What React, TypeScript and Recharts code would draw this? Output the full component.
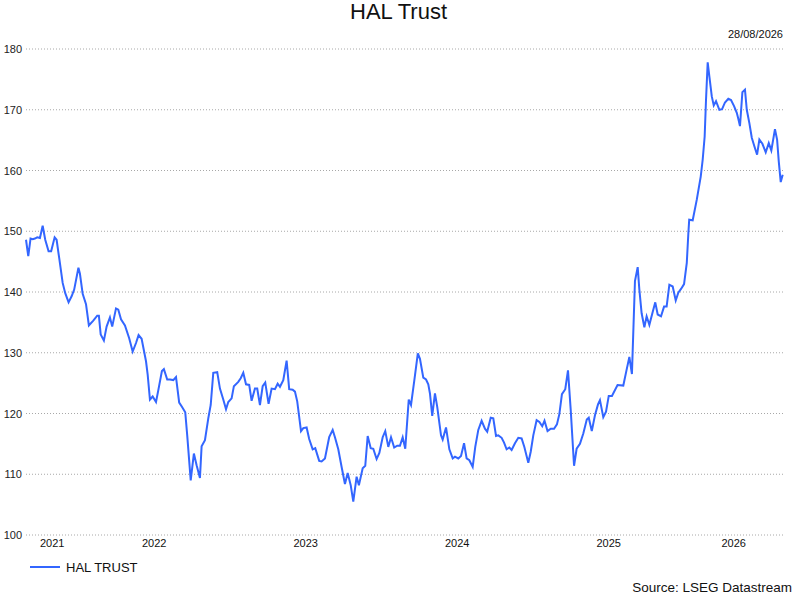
import { LineChart, Line, XAxis, YAxis, CartesianGrid } from "recharts";

// weekly closes, time as decimal year
const weeks = [
  2021.654, 2021.669, 2021.684, 2021.698, 2021.713, 2021.728, 2021.746, 2021.764, 2021.781, 2021.803,
  2021.820, 2021.843, 2021.856, 2021.873, 2021.896, 2021.913, 2021.935, 2021.955, 2021.972, 2022.000,
  2022.010, 2022.028, 2022.050, 2022.069, 2022.098, 2022.124, 2022.135, 2022.147, 2022.168, 2022.186,
  2022.208, 2022.223, 2022.248, 2022.263, 2022.281, 2022.307, 2022.335, 2022.358, 2022.380, 2022.397,
  2022.417, 2022.446, 2022.457, 2022.472, 2022.490, 2022.512, 2022.527, 2022.551, 2022.564, 2022.586,
  2022.604, 2022.626, 2022.644, 2022.665, 2022.683, 2022.705, 2022.718, 2022.741, 2022.762, 2022.780,
  2022.802, 2022.813, 2022.835, 2022.857, 2022.873, 2022.890, 2022.916, 2022.934, 2022.956, 2022.974,
  2022.989, 2023.011, 2023.026, 2023.055, 2023.071, 2023.088, 2023.106, 2023.127, 2023.143, 2023.165,
  2023.180, 2023.198, 2023.216, 2023.233, 2023.255, 2023.275, 2023.297, 2023.315, 2023.330, 2023.352,
  2023.374, 2023.391, 2023.414, 2023.429, 2023.444, 2023.469, 2023.484, 2023.506, 2023.523, 2023.546,
  2023.563, 2023.589, 2023.605, 2023.627, 2023.655, 2023.678, 2023.693, 2023.715, 2023.737, 2023.759,
  2023.777, 2023.797, 2023.814, 2023.836, 2023.851, 2023.876, 2023.893, 2023.909, 2023.929, 2023.946,
  2023.968, 2023.986, 2024.008, 2024.025, 2024.045, 2024.063, 2024.084, 2024.104, 2024.122, 2024.140,
  2024.157, 2024.180, 2024.195, 2024.217, 2024.240, 2024.254, 2024.276, 2024.294, 2024.309, 2024.320,
  2024.335, 2024.353, 2024.368, 2024.393, 2024.404, 2024.426, 2024.448, 2024.470, 2024.485, 2024.507,
  2024.525, 2024.545, 2024.562, 2024.580, 2024.602, 2024.619, 2024.639, 2024.661, 2024.683, 2024.698,
  2024.721, 2024.738, 2024.756, 2024.771, 2024.793, 2024.809, 2024.826, 2024.844, 2024.859, 2024.881,
  2024.903, 2024.925, 2024.943, 2024.969, 2024.985, 2025.002, 2025.024, 2025.042, 2025.061, 2025.076,
  2025.096, 2025.117, 2025.139, 2025.158, 2025.174, 2025.191, 2025.213, 2025.231, 2025.249, 2025.271,
  2025.288, 2025.310, 2025.332, 2025.355, 2025.368, 2025.388, 2025.409, 2025.429, 2025.442, 2025.464,
  2025.482, 2025.500, 2025.521, 2025.558, 2025.596, 2025.617, 2025.636, 2025.653, 2025.673, 2025.691,
  2025.702, 2025.717, 2025.735, 2025.750, 2025.768, 2025.790, 2025.807, 2025.823, 2025.845, 2025.865,
  2025.882, 2025.900, 2025.922, 2025.942, 2025.959, 2025.977, 2025.997, 2026.015, 2026.025, 2026.031,
  2026.054, 2026.081, 2026.107, 2026.120, 2026.133, 2026.142, 2026.153, 2026.164, 2026.180, 2026.193,
  2026.208, 2026.230, 2026.248, 2026.267, 2026.289, 2026.307, 2026.327, 2026.345, 2026.355, 2026.366,
  2026.382, 2026.399, 2026.411, 2026.428, 2026.444, 2026.461, 2026.479, 2026.494, 2026.514, 2026.536,
  2026.556, 2026.573, 2026.597, 2026.611, 2026.622, 2026.635, 2026.648,
];

const halTrust = [
  148.6, 145.9, 148.8, 148.7, 148.8, 149.0, 148.9, 150.9, 148.6, 146.7,
  146.7, 149.0, 148.6, 145.6, 141.5, 139.8, 138.3, 139.3, 140.4, 144.0,
  143.0, 139.7, 138.0, 134.5, 135.3, 136.1, 136.1, 133.0, 132.0, 134.3,
  135.8, 134.3, 137.3, 137.1, 135.5, 134.5, 132.4, 130.2, 131.6, 132.9,
  132.3, 128.6, 126.4, 122.3, 122.8, 121.9, 123.8, 127.0, 127.3, 125.6,
  125.6, 125.5, 126.0, 121.8, 121.1, 120.2, 116.4, 109.0, 113.4, 111.5,
  109.4, 114.6, 115.6, 119.2, 121.4, 126.7, 126.8, 124.1, 122.3, 120.7,
  121.9, 122.5, 124.5, 125.2, 125.8, 126.7, 124.8, 124.7, 122.1, 124.1,
  124.1, 121.4, 124.5, 125.1, 121.6, 124.1, 124.0, 124.9, 124.4, 125.5,
  128.7, 124.0, 123.9, 123.6, 122.0, 117.1, 117.6, 117.7, 115.8, 114.1,
  114.3, 112.2, 112.1, 112.6, 116.1, 117.3, 116.1, 114.1, 111.2, 108.4,
  110.2, 108.2, 105.5, 109.6, 108.2, 111.0, 111.4, 116.3, 114.3, 114.2,
  112.5, 113.5, 116.1, 117.1, 114.5, 116.1, 114.4, 114.7, 114.7, 116.1,
  114.2, 122.3, 121.4, 125.5, 129.9, 129.0, 125.9, 125.6, 124.8, 123.3,
  119.6, 123.3, 121.1, 116.4, 115.7, 117.7, 114.1, 112.6, 112.9, 112.6,
  113.0, 115.1, 112.6, 112.3, 111.2, 114.5, 117.3, 118.8, 117.5, 117.0,
  119.3, 119.2, 116.3, 116.4, 116.0, 115.2, 114.1, 114.4, 114.0, 115.1,
  116.0, 115.9, 114.5, 111.9, 113.7, 116.4, 118.9, 118.6, 117.9, 118.8,
  117.1, 117.5, 117.5, 118.2, 119.9, 123.2, 124.0, 127.1, 120.6, 111.4,
  114.2, 115.0, 116.7, 119.0, 119.3, 117.1, 119.7, 121.5, 122.2, 119.4,
  120.3, 122.9, 122.9, 124.7, 124.6, 127.1, 129.3, 126.5, 141.8, 144.1,
  140.4, 136.5, 134.2, 136.0, 134.6, 136.7, 138.3, 136.3, 136.0, 137.6,
  137.6, 141.2, 140.9, 138.6, 139.9, 140.5, 141.3, 144.8, 149.5, 151.9,
  151.8, 155.2, 159.0, 161.8, 165.6, 171.7, 177.8, 175.5, 172.2, 170.7,
  171.4, 170.0, 170.1, 171.2, 171.8, 171.6, 170.6, 169.5, 168.5, 167.3,
  172.9, 173.3, 170.0, 167.8, 165.4, 164.0, 162.6, 165.1, 164.4, 163.0,
  164.5, 163.3, 166.8, 165.1, 161.5, 158.1, 159.3,
];

const xDomain = [2021.654, 2026.65];
// year labels sit in the middle of each year's visible span
const xTicks = [2021.827, 2022.5, 2023.5, 2024.5, 2025.5, 2026.325];
const yTicks = [100, 110, 120, 130, 140, 150, 160, 170, 180];

const BLUE = "#3366ff";
const FONT = "'Liberation Sans', Arial, sans-serif";

function XTick({ x, y, payload }: any) {
  return (
    <text x={x} y={y} dy={4} textAnchor="middle" fontSize={11} fill="#111" fontFamily={FONT}>
      {Math.floor(payload.value)}
    </text>
  );
}

function YTick({ x, y, payload }: any) {
  return (
    <text x={x} y={y} dy={4} textAnchor="end" fontSize={11} fill="#222" fontFamily={FONT}>
      {payload.value}
    </text>
  );
}

export default function App() {
  const data = weeks.map((t, i) => ({ t, hal: halTrust[i] }));
  return (
    <div style={{ position: "absolute", left: 0, top: 0, width: 797, height: 598, background: "#fff", fontFamily: FONT, color: "#111" }}>
      <div style={{ position: "absolute", top: 0, left: 0, width: 797, textAlign: "center", fontSize: 22, lineHeight: "24px" }}>HAL Trust</div>
      <div style={{ position: "absolute", top: 28, right: 14, fontSize: 11, lineHeight: "13px" }}>28/08/2026</div>
      <LineChart width={797} height={598} data={data} margin={{ top: 49, right: 14, bottom: 33, left: 0 }}>
        <CartesianGrid vertical={false} stroke="#a8a8a8" strokeDasharray="1 2" />
        <XAxis
          dataKey="t"
          type="number"
          domain={xDomain}
          ticks={xTicks}
          interval={0}
          axisLine={false}
          tickLine={false}
          tick={<XTick />}
          height={30}
        />
        <YAxis
          domain={[100, 180]}
          ticks={yTicks}
          width={26}
          axisLine={false}
          tickLine={false}
          tickSize={2}
          tickMargin={2}
          tick={<YTick />}
        />
        <Line dataKey="hal" type="linear" stroke={BLUE} strokeWidth={2} dot={false} isAnimationActive={false} />
      </LineChart>
      <div style={{ position: "absolute", left: 30, top: 558, height: 18, display: "flex", alignItems: "center", fontSize: 13 }}>
        <svg width={30} height={18} style={{ marginRight: 6 }}>
          <line x1={0} x2={30} y1={9} y2={9} stroke={BLUE} strokeWidth={2} />
        </svg>
        HAL TRUST
      </div>
      <div style={{ position: "absolute", right: 5, top: 580, fontSize: 13.5, lineHeight: "16px" }}>Source: LSEG Datastream</div>
    </div>
  );
}
